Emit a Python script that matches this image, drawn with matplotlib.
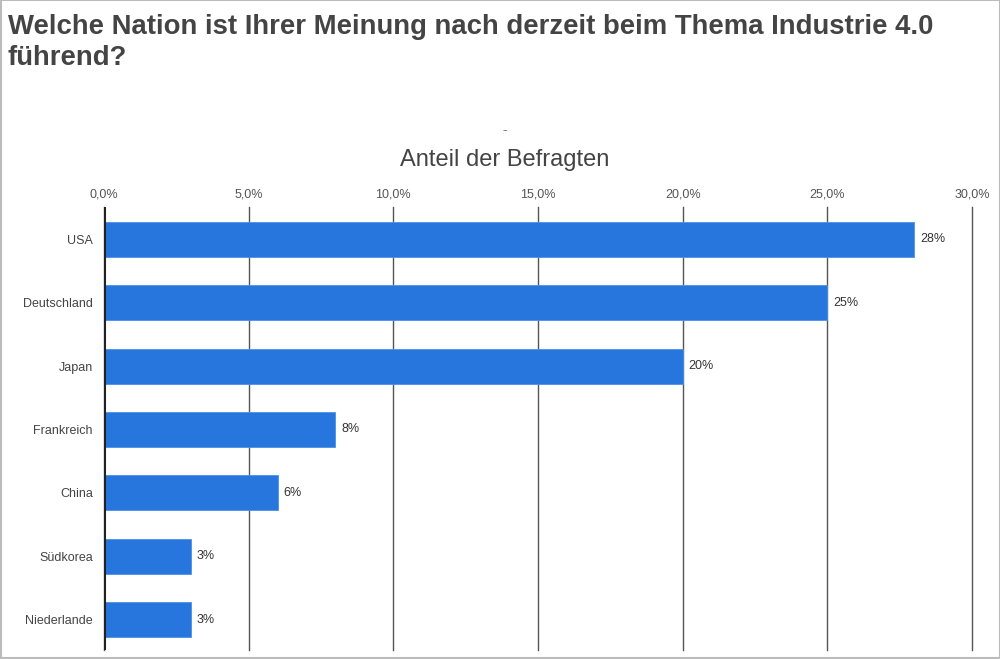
import numpy as np
import matplotlib.pyplot as plt
from matplotlib.ticker import FuncFormatter

# Data
nations = ["USA", "Deutschland", "Japan", "Frankreich", "China", "Südkorea", "Niederlande"]
shares = [28, 25, 20, 8, 6, 3, 3]
x_ticks = [0, 5, 10, 15, 20, 25, 30]

bar_color = "#2776DD"
text_color = "#444444"

fig = plt.figure(figsize=(10, 6.59), dpi=100)
ax = fig.add_axes([0.104, 0.0137, 0.868, 0.672])

y = np.arange(len(nations))
ax.barh(y, shares, height=0.55, color=bar_color, edgecolor="#4d8fe6", linewidth=0.6, zorder=3)

# value labels next to the bars
for yi, v in zip(y, shares):
    ax.text(v + 0.2, yi, f"{v}%", va="center", ha="left", fontsize=9, color="#333333",
            family="Liberation Sans")

ax.set_ylim(len(nations) - 1 + 0.48, -0.51)
ax.set_xlim(0, 30)
ax.set_yticks(y)
ax.set_yticklabels(nations, family="Liberation Sans", fontsize=9, color=text_color)
ax.set_xticks(x_ticks)
ax.xaxis.set_major_formatter(FuncFormatter(lambda v, p: f"{v:.1f}%".replace(".", ",")))
ax.xaxis.tick_top()
for lab in ax.get_xticklabels():
    lab.set_family("Liberation Sans")
    lab.set_fontsize(9)
    lab.set_color("#555555")
ax.tick_params(axis="both", length=0, pad=8)
ax.tick_params(axis="x", pad=5)

ax.grid(axis="x", color="#555555", linewidth=1, zorder=1)
for line in ax.get_xgridlines():
    line.set_clip_on(False)
for s in ax.spines.values():
    s.set_visible(False)
ax.axvline(0, color="#222222", linewidth=2.2, zorder=4)

# axis title above the chart
fig.text(0.505, 0.757, "Anteil der Befragten", ha="center", va="center", fontsize=17,
         color=text_color, family="Liberation Sans")
fig.text(0.505, 0.801, "--", ha="center", va="center", fontsize=6, color=text_color,
         family="Liberation Sans")

# chart title
fig.text(0.008, 0.979, "Welche Nation ist Ihrer Meinung nach derzeit beim Thema Industrie 4.0\nführend?",
         ha="left", va="top", fontsize=19.8, fontweight="bold", color=text_color,
         family="Liberation Sans", linespacing=1.25)

# light frame around the picture
fig.patches.append(plt.Rectangle((0.0005, 0.0008), 0.999, 0.9985, transform=fig.transFigure,
                                 fill=False, edgecolor="#bbbbbb", linewidth=1.5))

fig.savefig("out.png", dpi=100)
